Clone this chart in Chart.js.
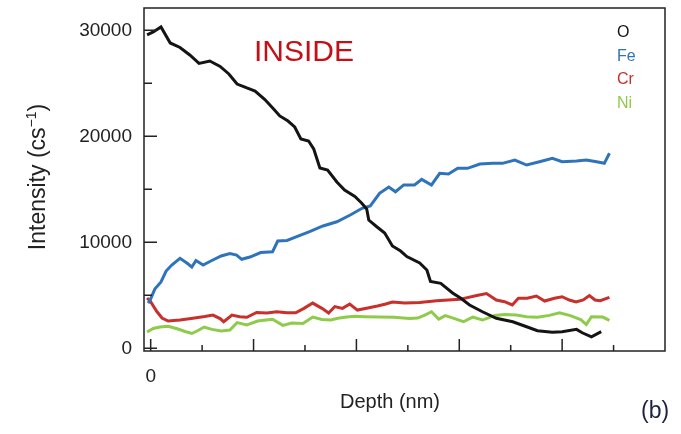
<!DOCTYPE html>
<html>
<head>
<meta charset="UTF-8">
<title>Depth profile</title>
<script src="https://cdn.jsdelivr.net/npm/chart.js"></script>
<style>
  body { margin: 0; background: #fff; }
</style>
</head>
<body>
<canvas id="c" width="681" height="434"></canvas>
<script>
// depth positions (one x tick = 10 units) and intensities
const oDepth = [-0.7,0.5,2.0,3.8,5.7,7.6,9.4,11.5,13.5,15.2,16.8,18.7,20.3,22.2,23.9,25.1,26.7,28.0,29.2,30.7,31.7,32.9,34.4,36.2,37.7,39.7,41.0,42.0,42.4,43.9,45.5,47.0,48.6,49.8,52.3,53.7,54.4,56.4,58.7,60.3,62.0,64.5,67.2,70.4,73.1,75.2,78.1,80.0,82.8,83.9,85.7,87.6];
const oCounts = [29560,29840,30310,28800,28380,27670,26870,27100,26590,25880,24930,24560,24270,23470,22580,21920,21440,20880,19750,19560,18800,17010,16820,15690,14930,14320,13710,13140,12100,11490,10880,9650,9180,8660,8050,7390,6300,6130,5220,4720,4090,3450,2830,2510,2040,1660,1510,1570,1790,1470,1090,1570];

const feDepth = [-0.5,-0.1,0.8,2.0,3.0,4.1,5.7,7.1,8.0,8.8,10.2,11.7,13.7,15.4,16.7,17.7,19.3,21.4,23.7,24.7,26.5,28.4,30.9,33.5,36.2,38.8,41.1,42.7,44.5,46.3,47.6,49.2,51.3,52.7,54.6,56.2,57.9,59.7,61.6,64.0,66.5,68.4,70.8,73.1,75.6,78.1,80.0,82.8,84.7,86.7,88.2,89.2];
const feCounts = [4270,4560,5590,6260,7290,7860,8490,8020,7670,8280,7860,8240,8710,8940,8800,8400,8610,9040,9110,10120,10170,10530,11000,11540,11940,12580,13210,13430,14620,15220,14770,15410,15410,15940,15410,16510,16440,16980,16980,17390,17450,17450,17760,17290,17600,17930,17600,17670,17760,17600,17450,18400];

const crDepth = [-0.7,-0.1,1.2,2.2,3.4,5.7,8.2,10.5,12.1,13.5,14.2,15.8,17.3,18.7,20.6,22.6,24.5,26.5,28.2,29.8,31.5,33.3,34.6,35.8,37.3,38.7,40.2,42.2,44.1,45.7,47.0,49.4,52.3,55.6,60.1,63.4,65.3,67.2,68.8,70.3,71.5,73.2,75.0,76.6,78.5,80.0,81.4,82.7,84.1,85.3,86.4,87.4,89.2];
const crCounts = [4750,4460,3470,2860,2580,2670,2830,3000,3140,2810,2510,3140,2980,2930,3380,3330,3450,3360,3360,3770,4270,3770,3330,3940,3770,4180,3610,3800,3990,4180,4370,4270,4320,4490,4620,4980,5170,4560,4400,4090,4720,4720,4930,4460,4720,4870,4560,4370,4560,4980,4560,4490,4810];

const niDepth = [-0.7,0.5,1.8,3.4,5.3,6.7,8.0,9.2,10.4,11.9,13.7,15.4,16.8,18.7,20.8,22.4,23.7,25.7,27.4,29.6,31.5,33.3,35.0,36.4,38.1,39.7,41.6,44.5,47.4,50.3,51.9,53.3,54.6,56.0,57.3,59.1,60.8,62.6,64.5,66.9,68.8,71.1,73.1,75.2,77.5,79.5,81.6,83.6,84.7,85.7,87.9,89.2];
const niCounts = [1540,1870,2010,2080,1820,1590,1400,1680,2010,1790,1630,1730,2430,2200,2580,2670,2740,2170,2390,2340,2950,2720,2670,2830,2950,3020,2980,2950,2930,2810,2860,3140,3450,2760,3090,2810,2510,2950,2670,3090,3190,3140,2980,2930,3110,3360,3090,2720,2250,2980,2950,2640];

const seriesNames = ['O', 'Fe', 'Cr', 'Ni'];
const seriesColors = ['#141414', '#2f74ba', '#c8302b', '#8fcb4a'];

const yTicks = [0, 10000, 20000, 30000];
const yMinorTicks = [5000, 15000, 25000];
const xTickLabels = [0];
const xMajorTicks = [0, 20, 40, 60, 80];
const xMinorTicks = [10, 30, 50, 70, 90];

function pairs(xs, ys) {
  return xs.map((x, i) => ({ x: x, y: ys[i] }));
}

const dataSets = [
  pairs(oDepth, oCounts),
  pairs(feDepth, feCounts),
  pairs(crDepth, crCounts),
  pairs(niDepth, niCounts)
];

const FONT = '"Liberation Sans", Arial, sans-serif';

// frame, inward tick marks, titles and the in-plot legend
const decor = {
  id: 'decor',
  afterDraw(chart) {
    const ctx = chart.ctx;
    const a = chart.chartArea;
    const xs = chart.scales.x, ys = chart.scales.y;
    ctx.save();
    ctx.strokeStyle = '#222';
    ctx.lineWidth = 1.5;
    ctx.strokeRect(a.left, a.top, a.right - a.left, a.bottom - a.top);

    ctx.beginPath();
    yTicks.forEach(v => { const p = ys.getPixelForValue(v); ctx.moveTo(a.left, p); ctx.lineTo(a.left + 13, p); });
    yMinorTicks.forEach(v => { const p = ys.getPixelForValue(v); ctx.moveTo(a.left, p); ctx.lineTo(a.left + 8, p); });
    xMajorTicks.forEach(v => { const p = xs.getPixelForValue(v); ctx.moveTo(p, a.bottom); ctx.lineTo(p, a.bottom - 12); });
    xMinorTicks.forEach(v => { const p = xs.getPixelForValue(v); ctx.moveTo(p, a.bottom); ctx.lineTo(p, a.bottom - 6); });
    ctx.stroke();

    // axis titles
    ctx.fillStyle = '#222';
    ctx.textAlign = 'center';
    ctx.textBaseline = 'middle';
    ctx.font = '20px ' + FONT;
    ctx.fillText('Depth (nm)', 390, 402);

    ctx.translate(39, 177);
    ctx.rotate(-Math.PI / 2);
    const main = 'Intensity (cs';
    ctx.font = '23px ' + FONT;
    const w1 = ctx.measureText(main).width;
    const w3 = ctx.measureText(')').width;
    ctx.font = '14px ' + FONT;
    const w2 = ctx.measureText('\u22121').width;
    const x0 = -(w1 + w2 + w3) / 2;
    ctx.textAlign = 'left';
    ctx.font = '23px ' + FONT;
    ctx.fillText(main, x0, 0);
    ctx.font = '14px ' + FONT;
    ctx.fillText('\u22121', x0 + w1, -7);
    ctx.font = '23px ' + FONT;
    ctx.fillText(')', x0 + w1 + w2, 0);
    ctx.setTransform(1, 0, 0, 1, 0, 0);

    // legend text
    ctx.font = '16px ' + FONT;
    chart.data.datasets.forEach((ds, i) => {
      ctx.fillStyle = ds.borderColor;
      ctx.fillText(ds.label, 617, 33 + i * 23.5);
    });

    ctx.fillStyle = '#c40f14';
    ctx.font = '30px ' + FONT;
    ctx.fillText('INSIDE', 254, 53);

    ctx.fillStyle = '#1c2340';
    ctx.font = '23px ' + FONT;
    ctx.fillText('(b)', 641, 412);
    ctx.restore();
  }
};

new Chart(document.getElementById('c'), {
  type: 'line',
  data: {
    datasets: seriesNames.map((name, i) => ({
      label: name,
      data: dataSets[i],
      borderColor: seriesColors[i],
      borderWidth: 3,
      pointRadius: 0,
      tension: 0,
      fill: false
    }))
  },
  options: {
    responsive: false,
    animation: false,
    layout: { padding: { top: 8, right: 16, left: 0, bottom: 0 } },
    plugins: { legend: { display: false }, tooltip: { enabled: false } },
    scales: {
      x: {
        type: 'linear',
        min: -1.3,
        max: 100,
        afterFit: s => { s.height = 83; s.paddingLeft = 0; s.paddingRight = 0; },
        afterBuildTicks: s => { s.ticks = xTickLabels.map(v => ({ value: v })); },
        grid: { display: false, drawTicks: false },
        border: { display: false },
        ticks: {
          padding: 14,
          color: '#222',
          font: { family: FONT, size: 19 }
        }
      },
      y: {
        min: -250,
        max: 32100,
        afterFit: s => { s.width = 144; s.paddingTop = 0; s.paddingBottom = 0; },
        afterBuildTicks: s => { s.ticks = yTicks.map(v => ({ value: v })); },
        grid: { display: false, drawTicks: false },
        border: { display: false },
        ticks: {
          padding: 12,
          color: '#222',
          font: { family: FONT, size: 19 },
          callback: v => String(v)
        }
      }
    }
  },
  plugins: [decor]
});
</script>
</body>
</html>
